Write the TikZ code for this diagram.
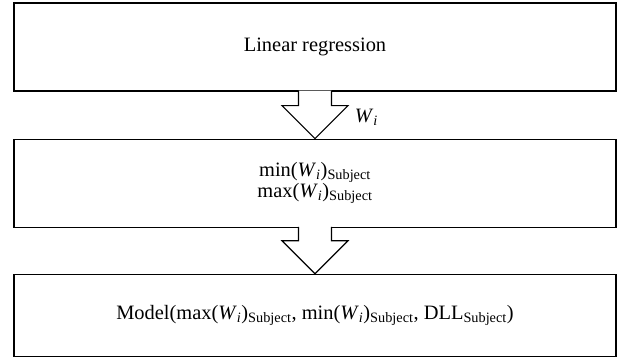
\documentclass[tikz,border=0pt]{standalone}
\usepackage{fontspec}
\setmainfont{Liberation Serif}
\usetikzlibrary{positioning,calc}
\newcommand{\Wi}{\textit{W}\textsubscript{\textit{i}}}
\newcommand{\sbj}{\textsubscript{Subject}}

\begin{document}
\begin{tikzpicture}[x=1bp,y=1bp,line width=1.2bp,
  blk/.style={draw,rectangle,minimum width=602bp,minimum height=88bp,inner sep=0pt,
    align=center,font=\fontsize{20.5}{19}\selectfont},
  barrow/.style={fill=white,line join=miter}]
\useasboundingbox (0,0) rectangle (617,-356);
% the three boxes
\node[blk] (Lin) at (315,-47) {Linear regression};
\node[blk] (MinMax) [below=47bp of Lin] {min(\Wi)\sbj\\ max(\Wi)\sbj};
\node[blk,minimum height=82bp] (Model) [below=46bp of MinMax] {Model(max(\Wi)\sbj, min(\Wi)\sbj, DLL\sbj)};
% the block arrows between them
\filldraw[barrow] ($(Lin.south)+(-16.5,1)$) -- ++(0,-15) -- ++(-16.5,0) -- (MinMax.north)
  -- ++(33,33) coordinate (w1) -- ++(-16.5,0) -- ++(0,15);
\filldraw[barrow] ($(MinMax.south)+(-16.5,1)$) -- ++(0,-14) -- ++(-16.5,0) -- (Model.north)
  -- ++(33,33) -- ++(-16.5,0) -- ++(0,14);
% label
\node[font=\fontsize{20.5}{19}\selectfont] (Wi) [anchor=west] at ($(w1)+(3,-12)$) {\Wi};
\end{tikzpicture}
\end{document}
